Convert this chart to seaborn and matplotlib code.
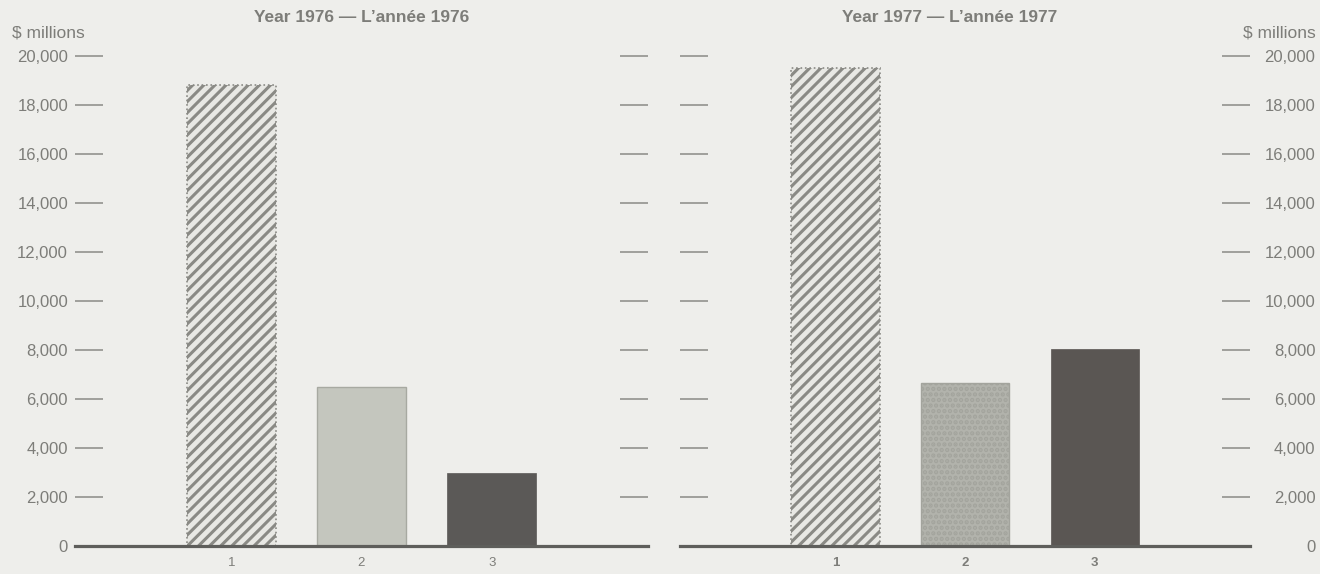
import numpy as np
import pandas as pd
import seaborn as sns
from matplotlib import pyplot as plt

# ===== data ($ millions) =====
categories = ['1', '2', '3']
values_1976 = [18800, 6500, 3000]
values_1977 = [19500, 6650, 8050]
ytick_vals = [0, 2000, 4000, 6000, 8000, 10000, 12000, 14000, 16000, 18000, 20000]
ytick_labels = ['0', '2,000', '4,000', '6,000', '8,000', '10,000', '12,000',
                '14,000', '16,000', '18,000', '20,000']
titles = ['Year 1976 \u2014 L\u2019ann\u00e9e 1976', 'Year 1977 \u2014 L\u2019ann\u00e9e 1977']

sns.set_style('white')
plt.rcParams['font.family'] = ['Liberation Sans', 'DejaVu Sans']
plt.rcParams['hatch.linewidth'] = 2.2

bg = '#eeeeeb'
txt = '#7d7d79'
tickc = '#8a8a86'

fig = plt.figure(figsize=(13.2, 5.74), dpi=100, facecolor=bg)
ax_l = fig.add_axes([75 / 1320, 1 - 546 / 574, 573 / 1320, 490 / 574])
ax_r = fig.add_axes([680 / 1320, 1 - 546 / 574, 570 / 1320, 490 / 574])

face_1976 = ['#e8e8e4', '#c4c6be', '#5b5957']
face_1977 = ['#e8e8e4', '#b2b3ac', '#5a5653']

for ax, vals, faces, side in [(ax_l, values_1976, face_1976, 'left'),
                              (ax_r, values_1977, face_1977, 'right')]:
    df = pd.DataFrame({'cat': categories, 'val': vals})
    sns.barplot(data=df, x='cat', y='val', hue='cat', palette=faces, legend=False,
                width=0.68, ax=ax, saturation=1)
    ax.set_facecolor(bg)
    for i, p in enumerate(ax.patches):
        if i == 0:
            p.set_hatch('///')
            p.set_edgecolor('#8a8a85')
            p.set_linewidth(1.2)
            p.set_linestyle(':')
        elif i == 1:
            if side == 'right':
                p.set_hatch('...')
                p.set_edgecolor('#a3a49d')
            else:
                p.set_edgecolor('#a7a9a1')
            p.set_linewidth(1.0)
        else:
            p.set_edgecolor(faces[2])
            p.set_linewidth(0.5)

    ax.set_xlim(-1.2, 3.2)
    ax.set_ylim(0, 20000)
    ax.set_xlabel('')
    ax.set_ylabel('')
    for s in ['top', 'left', 'right']:
        ax.spines[s].set_visible(False)
    ax.spines['bottom'].set_linewidth(2.3)
    ax.spines['bottom'].set_color('#5e5e5b')

    ax.set_yticks(ytick_vals)
    ax.set_yticklabels(ytick_labels)
    ax.tick_params(axis='y', direction='in', length=20, width=1.1, color=tickc,
                   left=True, right=True, labelsize=12, labelcolor=txt,
                   labelleft=(side == 'left'), labelright=(side == 'right'),
                   pad=5 if side == 'left' else 47)
    if side == 'right':
        for lab in ax.get_yticklabels():
            lab.set_horizontalalignment('right')
    ax.tick_params(axis='x', length=0, labelsize=9.5, labelcolor=txt, pad=8)
    if side == 'right':
        for lab in ax.get_xticklabels():
            lab.set_fontweight('bold')

fig.text(362 / 1320, 1 - 17 / 574, titles[0], ha='center', va='center',
         fontsize=12.5, fontweight='bold', color=txt)
fig.text(950 / 1320, 1 - 17 / 574, titles[1], ha='center', va='center',
         fontsize=12.5, fontweight='bold', color=txt)
fig.text(12 / 1320, 1 - 33 / 574, '$ millions', ha='left', va='center',
         fontsize=12.5, color=txt)
fig.text(1316 / 1320, 1 - 33 / 574, '$ millions', ha='right', va='center',
         fontsize=12.5, color=txt)

plt.savefig('out.png', dpi=100, facecolor=bg)
plt.close()
